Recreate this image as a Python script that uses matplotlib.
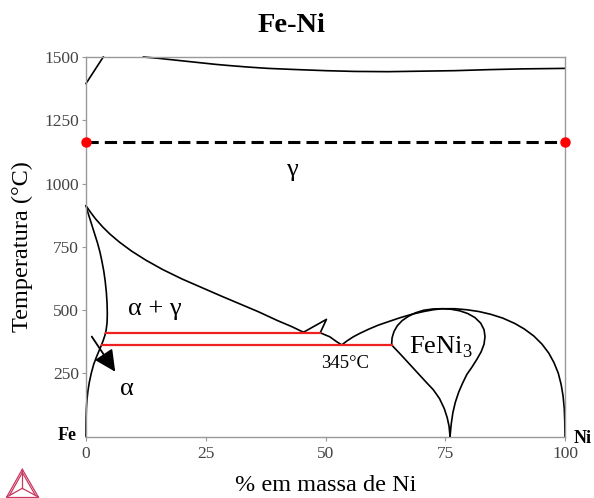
import matplotlib
matplotlib.use("Agg")
import matplotlib.pyplot as plt
from matplotlib.lines import Line2D

plt.rcParams['font.family'] = ['Liberation Serif', 'DejaVu Serif']
plt.rcParams['mathtext.fontset'] = 'custom'
plt.rcParams['mathtext.rm'] = 'Liberation Serif'

# ---------------- data ----------------
liq_x = [12, 15, 18, 21, 24, 27, 30, 34, 38, 43, 50, 56, 63, 70, 77, 84, 91, 100]
liq_T = [1500, 1495, 1489, 1483, 1477, 1471, 1466, 1460, 1455, 1451, 1446, 1443, 1442, 1444, 1446, 1450, 1453, 1455]

delta_x = [0, 3.6]
delta_T = [1395, 1500]

gam_x = [0, 1, 2, 3.5, 5, 7, 9.5, 12.5, 16, 20, 24, 28, 32, 36, 40, 43, 45.4]
gam_T = [912, 885, 860, 828, 800, 768, 733, 697, 660, 623, 590, 557, 525, 493, 458, 434, 412]

asol_x = [0, 0.4, 0.9, 1.4, 1.9, 2.4, 2.9, 3.3, 3.7, 4.0, 4.25, 4.4, 4.45, 4.4, 4.2, 3.95, 3.6, 3.2,
          2.7, 2.2, 1.6, 1.1, 0.7, 0.4, 0.2, 0.08, 0.02, 0, 0]
asol_T = [912, 885, 855, 825, 795, 765, 730, 695, 655, 615, 570, 525, 485, 450, 420, 400, 380, 360,
          338, 315, 285, 250, 215, 180, 145, 110, 70, 30, 0]

notch_x = [45.4, 50.2, 48.9, 50.9, 52.3, 53.4]
notch_T = [412, 463, 410, 394, 375, 362]

dome_x = [53.4, 54.5, 55.8, 57.2, 59, 61, 63, 65.5, 68, 70.5, 72.5, 74.3, 77, 79.5, 82, 84.5, 87,
          89.5, 91.5, 93.5, 95.2, 96.6, 97.7, 98.6, 99.2, 99.6, 99.85, 99.95, 100]
dome_T = [362, 378, 394, 408, 424, 440, 453, 469, 483, 494, 501, 505, 505, 501, 494, 483, 468,
          447, 425, 397, 365, 330, 292, 250, 205, 160, 110, 60, 0]

feni3_x = [76, 75.8, 75.4, 74.8, 73.8, 72.5, 71, 69.3, 67.6, 65.8, 63.8,
           63.9, 64.3, 65, 66, 67.3, 68.8, 70.5, 72.4, 74.3,
           76.2, 78, 79.7, 81.2, 82.4, 83.1, 83.3, 83.1, 82.5, 81.6, 80.6, 79.5, 78.6, 77.8, 77.1,
           76.6, 76.25, 76]
feni3_T = [0, 40, 75, 110, 150, 185, 215, 250, 285, 322, 362,
           390, 415, 438, 458, 475, 489, 499, 504, 505,
           503, 497, 486, 470, 448, 422, 395, 365, 335, 305, 275, 245, 210, 175, 135,
           95, 50, 0]

red_upper_x = [4.1, 48.9]
red_upper_T = [410, 410]
red_lower_x = [3.3, 63.8]
red_lower_T = [362, 362]

dash_x = [0, 100]
dash_T = [1165, 1165]

x_ticks = [0, 25, 50, 75, 100]
y_ticks = [250, 500, 750, 1000, 1250, 1500]

# ---------------- figure ----------------
fig = plt.figure(figsize=(5.94, 4.98), dpi=100)
ax = fig.add_axes([86/594, 1-436.5/498, (565-86)/594, (436.5-57)/498])
ax.set_xlim(0, 100)
ax.set_ylim(0, 1500)

lw = 1.2
for xs, ys in [(liq_x, liq_T), (delta_x, delta_T), (gam_x, gam_T), (asol_x, asol_T),
               (notch_x, notch_T), (dome_x, dome_T), (feni3_x, feni3_T)]:
    ax.plot(xs, ys, color='black', lw=lw, solid_joinstyle='round', clip_on=False)

ax.plot(red_upper_x, red_upper_T, color='#ee2020', lw=1.6)
ax.plot(red_lower_x, red_lower_T, color='#ee2020', lw=1.6)

ax.plot(dash_x, dash_T, color='black', lw=2.2, dashes=(4, 2), clip_on=False)
ax.plot(dash_x, dash_T, linestyle='none', marker='o', ms=6.5, color='#ff0000', clip_on=False, zorder=5)

# arrow
ax.annotate('', xy=(6.1, 256), xytext=(1.2, 395),
            arrowprops=dict(arrowstyle='-|>,head_length=0.65,head_width=0.32', mutation_scale=20,
                            color='black', lw=1.3, shrinkA=0, shrinkB=0))

# labels
ax.text(43, 1053, 'γ', fontsize=19, ha='center', va='center')
ax.text(14.4, 505, 'α + γ', fontsize=19, ha='center', va='center')
ax.text(8.5, 188, 'α', fontsize=19, ha='center', va='center')
ax.text(74.1, 330, r'FeNi$_\mathrm{3}$', fontsize=19, ha='center', va='baseline')
ax.text(54.1, 270, '345°C', fontsize=13.5, ha='center', va='baseline')
ax.text(-1.9, -14, 'Fe', fontsize=13, fontweight='bold', ha='right', va='baseline', clip_on=False)
ax.text(101.7, -26, 'Ni', fontsize=13, fontweight='bold', ha='left', va='baseline', clip_on=False)

# axes styling
for s in ax.spines.values():
    s.set_color('#999999')
    s.set_linewidth(1.0)
ax.set_xticks(x_ticks)
ax.set_yticks(y_ticks)
ax.tick_params(axis='both', direction='out', length=3, width=0.8, color='#999999',
               labelsize=12.5, labelcolor='#444444', pad=2)
ax.tick_params(axis='x', pad=4)
ax.set_ylabel('Temperatura (°C)', fontsize=17.5, labelpad=8)
ax.set_xlabel('% em massa de Ni', fontsize=17.5, labelpad=9)

fig.text(291/594, 1-32/498, 'Fe-Ni', fontsize=20.5, fontweight='bold', ha='center', va='baseline')

# logo (triangle)
def P(x, y):
    return (x/594, 1-y/498)
logo_col = '#c8385f'
apex, bl, br, c = (22.3, 469.3), (6.7, 497.0), (38.3, 497.0), (22.3, 488.3)
segs = [(apex, bl), (apex, br), (bl, br), (apex, c), (c, bl), (c, br),
        ((22.3, 472.5), (9.5, 495.5)), ((22.3, 472.5), (35.5, 495.5))]
for a, b in segs:
    pa, pb = P(*a), P(*b)
    fig.add_artist(Line2D([pa[0], pb[0]], [pa[1], pb[1]], color=logo_col, lw=0.9,
                          transform=fig.transFigure))

fig.savefig('out.png', dpi=100)
